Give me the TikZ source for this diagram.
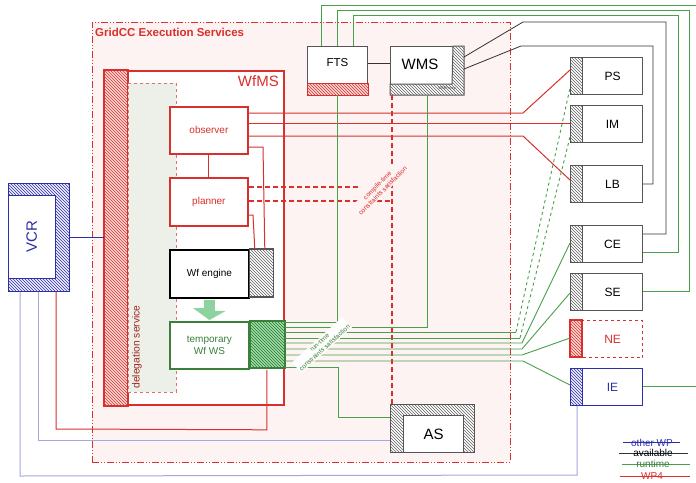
\documentclass[tikz,border=0pt]{standalone}
\usepackage{fontspec}
\setmainfont{Liberation Sans}
\usetikzlibrary{patterns,calc}
\definecolor{wpred}{HTML}{D8302C}
\definecolor{rtgreen}{HTML}{48A048}
\definecolor{owblue}{HTML}{2E2EA8}
\definecolor{lav}{HTML}{A6A6DE}
\definecolor{pinkbg}{HTML}{FDF3F2}
\definecolor{delbg}{HTML}{EDEFE9}
\definecolor{boxgray}{HTML}{555555}
\definecolor{arrowg}{HTML}{8DD3A0}
\definecolor{lightg}{HTML}{9BE0A8}
\definecolor{lightr}{HTML}{FBD8D6}
\begin{document}
\begin{tikzpicture}[x=1pt,y=-1pt,
  box/.style={draw=boxgray, line width=1pt, fill=white, inner sep=0pt, anchor=north west},
  rbox/.style={box, minimum width=72pt, minimum height=37pt, font=\fontsize{12}{12}\selectfont},
  hr/.style={preaction={fill=lightr}, pattern=north west lines, pattern color=wpred, draw=wpred},
  hk/.style={preaction={fill=white}, pattern=north west lines, pattern color=gray!75!black, draw=boxgray},
  hg/.style={preaction={fill=lightg}, pattern=north west lines, pattern color=rtgreen!70!black, draw=rtgreen!80!black},
  hb/.style={preaction={fill=blue!6}, pattern=north west lines, pattern color=owblue, draw=owblue},
  rline/.style={wpred, line width=1pt},
  gline/.style={rtgreen, line width=0.9pt},
  kline/.style={black!80, line width=0.8pt},
  bline/.style={owblue, line width=0.8pt},
  lline/.style={lav, line width=1pt},
  rdash/.style={wpred, line width=1.1pt, dash pattern=on 5pt off 3pt},
  lbl/.style={inner sep=0pt}
]
\useasboundingbox (0,0) rectangle (696,482);
\fill[white] (0,0) rectangle (696,482);

% GridCC execution services
\node[draw=wpred, line width=0.9pt, dash pattern=on 7pt off 2pt on 1pt off 2pt on 1pt off 2pt,
      fill=pinkbg, anchor=north west, minimum width=418pt, minimum height=440pt, inner sep=0pt] (grid) at (92,22) {};
\node[lbl, anchor=west, text=wpred, font=\bfseries\fontsize{11.5}{12}\selectfont] (gridt) at (95,32) {GridCC Execution Services};

% WfMS
\node[draw=wpred, line width=1.8pt, fill=white, anchor=north west, minimum width=179pt, minimum height=334pt, inner sep=0pt] (wfms) at (104,70) {};
\draw[hr, line width=1.8pt] (wfms.north west) rectangle ($(wfms.south west)+(24,0)$);
\node[draw=wpred!70, dashed, line width=0.8pt, fill=delbg, anchor=north west, minimum width=48pt, minimum height=309pt, inner sep=0pt] (deleg) at (128,83) {};
\node[lbl, rotate=90, text=wpred!75!black, font=\fontsize{10.3}{11}\selectfont] (delegt) at (137,347) {delegation service};
\node[lbl, anchor=east, text=wpred, font=\fontsize{15}{16}\selectfont] (wfmst) at (279,81) {WfMS};

% FTS, WMS
\node[box, minimum width=60pt, minimum height=48pt] (fts) at (307,46) {};
\draw[hr, line width=1pt] ($(fts.south west)+(0,-12)$) rectangle (fts.south east);
\node[lbl, font=\fontsize{11.5}{12}\selectfont] (ftst) at ($(fts.north)+(0,17)$) {FTS};

\node[box, minimum width=73pt, minimum height=48pt] (wms) at (390,46) {};
\draw[hk, line width=1pt] (wms.north east) -- (wms.south east) -- (wms.south west) -- ++(0,-11) -- ++(62,0) -- ($(wms.north east)+(-11,0)$) -- cycle;
\node[lbl, font=\fontsize{15}{16}\selectfont] (wmst) at (420,64) {WMS};
\node[lbl, text=black!70, font=\fontsize{4}{4}\selectfont] (wmsp) at (447,89) {WMProxy};

% right column
\node[rbox] (ps) at (570,57) {\hspace*{12pt}PS};
\draw[hk, line width=1pt] (ps.north west) rectangle ++(12,37);
\node[rbox] (im) at (570,105) {\hspace*{12pt}IM};
\draw[hk, line width=1pt] (im.north west) rectangle ++(12,37);
\node[rbox] (lb) at (570,165) {\hspace*{12pt}LB};
\draw[hk, line width=1pt] (lb.north west) rectangle ++(12,37);
\node[rbox] (ce) at (570,225) {\hspace*{12pt}CE};
\draw[hk, line width=1pt] (ce.north west) rectangle ++(12,37);
\node[rbox] (se) at (570,273) {\hspace*{12pt}SE};
\draw[hk, line width=1pt] (se.north west) rectangle ++(12,37);
\node[rbox, draw=wpred, dashed, line width=1.3pt, text=wpred] (ne) at (570,320) {\hspace*{12pt}NE};
\draw[hr, line width=1.3pt] (ne.north west) rectangle ++(12,37);
\node[rbox, draw=owblue, text=owblue] (ie) at (570,368) {\hspace*{12pt}IE};
\draw[hb, line width=1pt] (ie.north west) rectangle ++(12,37);

% AS
\node[box, hk, minimum width=84pt, minimum height=48pt] (as) at (390,404) {};
\node[box, minimum width=60pt, minimum height=37pt, font=\fontsize{15}{15}\selectfont] (ast) at (403,415) {AS};

% VCR
\node[box, hb, minimum width=61pt, minimum height=108pt] (vcr) at (8,183) {};
\node[box, draw=owblue, line width=0.5pt, minimum width=47pt, minimum height=83pt] (vcri) at (8,195) {};
\node[lbl, rotate=90, text=owblue, font=\fontsize{15}{15}\selectfont] (vcrt) at (vcri.center) {VCR};
\draw[bline] (vcr.east) -- (wfms.west |- vcr.east);

% black wires
\draw[kline] ($(wms.north east)+(0,11)$) -- (523,22) -- (666,22) |- ($(ce.north east)+(0,9)$);
\draw[kline] ($(wms.north east)+(0,23)$) -- (521,46) -- (653,46) |- (lb.east);
\draw[kline] ($(fts.north east)+(0,17)$) -- ($(wms.north west)+(0,17)$);

% green wires from FTS top
\draw[gline] ($(fts.north west)+(14,0)$) -- ++(0,-41) -- (700,5) |- ($(ie.east)+(0,-1)$);
\draw[gline] ($(fts.north west)+(30,0)$) -- ++(0,-36) -- (689,10) |- ($(se.east)+(0,-1)$);
\draw[gline] ($(fts.north west)+(46,0)$) -- ++(0,-31) -- (678,15) |- ($(ce.north east)+(0,27)$);

% red dashed (compile-time)
\draw[rdash] ($(wms.south west)+(2,0)$) -- ($(as.north west)+(2,0)$);

% Wf engine, temporary Wf WS, observer, planner
\node[box, draw=wpred, line width=1.8pt, minimum width=78pt, minimum height=47pt, text=wpred, font=\fontsize{10}{12}\selectfont] (obs) at (169,106) {observer};
\node[box, draw=wpred, line width=1.8pt, minimum width=78pt, minimum height=48pt, text=wpred, font=\fontsize{10}{12}\selectfont] (plan) at (169,177) {planner};
\node[box, draw=black, line width=1.8pt, minimum width=79pt, minimum height=48pt, font=\fontsize{10}{12}\selectfont] (wfe) at (169,249) {Wf engine};
\draw[hk, line width=1.2pt] (wfe.north east) rectangle ++(24,48);
\node[box, draw=rtgreen!80!black, line width=1.8pt, minimum width=79pt, minimum height=47pt, text=rtgreen!80!black, align=center, font=\fontsize{10}{12}\selectfont] (tws) at (169,321) {temporary\\Wf WS};
\draw[hg, line width=1.8pt] (tws.north east) rectangle ++(35,47);
\coordinate (twsr) at ($(tws.north east)+(35,0)$);

\fill[arrowg] ($(wfe.south)+(-5.5,1)$) -- ++(11,0) -- ++(0,11) -- ++(11,0) -- ($(tws.north)+(0,-1)$) -- ++(-16.5,-12) -- ++(11,0) -- cycle;

% red wires from observer / planner
\draw[rline] (obs.east |- 0,113) -- (523,113) -- ($(ps.north west)+(0,13)$);
\draw[rline] (obs.east |- 0,123) -- (im.west |- 0,123);
\draw[rline] (obs.east |- 0,136) -- (523,136) -- ($(lb.north west)+(0,15)$);
\draw[rline] (obs.east |- 0,147) -- (263,147) -- ($(wfe.north east)+(15,0)$);
\draw[rline] (plan.east |- 0,215) -- (253,215) -- ($(wfe.north east)+(5,0)$);
\draw[rline] (obs.south) -- (plan.north);
\draw[rdash] (plan.east |- 0,187) -- (358,187);
\draw[rdash] (plan.east |- 0,201) -- (392,201);

% green wires from temporary Wf WS
\draw[gline] ($(fts.south west)+(30,0)$) |- ($(twsr)+(0,1)$);
\draw[gline] ($(wms.south west)+(37,0)$) |- ($(twsr)+(0,6)$);
\draw[gline] ($(twsr)+(0,11)$) -- (516,332);
\draw[gline, dashed] (516,332) -- ($(ps.north west)+(0,31)$);
\draw[gline] ($(twsr)+(0,17)$) -- (520,338);
\draw[gline, dashed] (520,338) -- ($(im.north west)+(0,32)$);
\draw[gline] ($(twsr)+(0,22)$) -- (522,343) -- ($(ce.north west)+(0,18)$);
\draw[gline] ($(twsr)+(0,28)$) -- (522,349) -- ($(se.north west)+(0,20)$);
\draw[gline] ($(twsr)+(0,34)$) -- (522,355) -- ($(ne.north west)+(0,18)$);
\draw[gline] ($(twsr)+(0,40)$) -- (523,361) -- ($(ie.north west)+(0,17)$);
\draw[gline] ($(twsr)+(0,46)$) -- (338,367) |- (as.west |- 0,417);

% VCR lower wires
\draw[lline] ($(vcr.south west)+(12,0)$) -- ++(0,184) -- (577,475) -- ($(ie.south west)+(7,0)$);
\draw[lline] ($(vcr.south west)+(30,0)$) |- (as.west |- 0,440);
\draw[rline] ($(vcr.south west)+(48,0)$) -- ++(0,137) -- ($(tws.south east)+(17,60)$) -- ($(tws.south east)+(17,0)$);

% rotated annotations
\node[lbl, rotate=45, fill=pinkbg, inner sep=1pt, text=wpred, align=center, font=\fontsize{6.5}{7.5}\selectfont] (ctc) at (380,188) {compile-time\\constraints satisfaction};
\node[lbl, rotate=42, fill=white, inner sep=1pt, text=rtgreen!80!black, align=center, font=\fontsize{6.5}{7.5}\selectfont] (rtc) at (322,345) {run-time\\constraints satisfaction};

% legend
\draw[bline] (623,442) -- (680,442);
\node[lbl, text=owblue, font=\fontsize{10}{10}\selectfont] (lg1) at (652,443) {other WP};
\draw[kline] (619,453) -- (688,453);
\node[lbl, text=black, font=\fontsize{10}{10}\selectfont] (lg2) at (653,453) {available};
\draw[gline] (622,464) -- (690,464);
\node[lbl, text=rtgreen!80!black, font=\fontsize{10}{10}\selectfont] (lg3) at (653,464) {runtime};
\draw[rline] (620,476) -- (690,476);
\node[lbl, text=wpred, font=\fontsize{10}{10}\selectfont] (lg4) at (652,476) {WP4};
\end{tikzpicture}
\end{document}
